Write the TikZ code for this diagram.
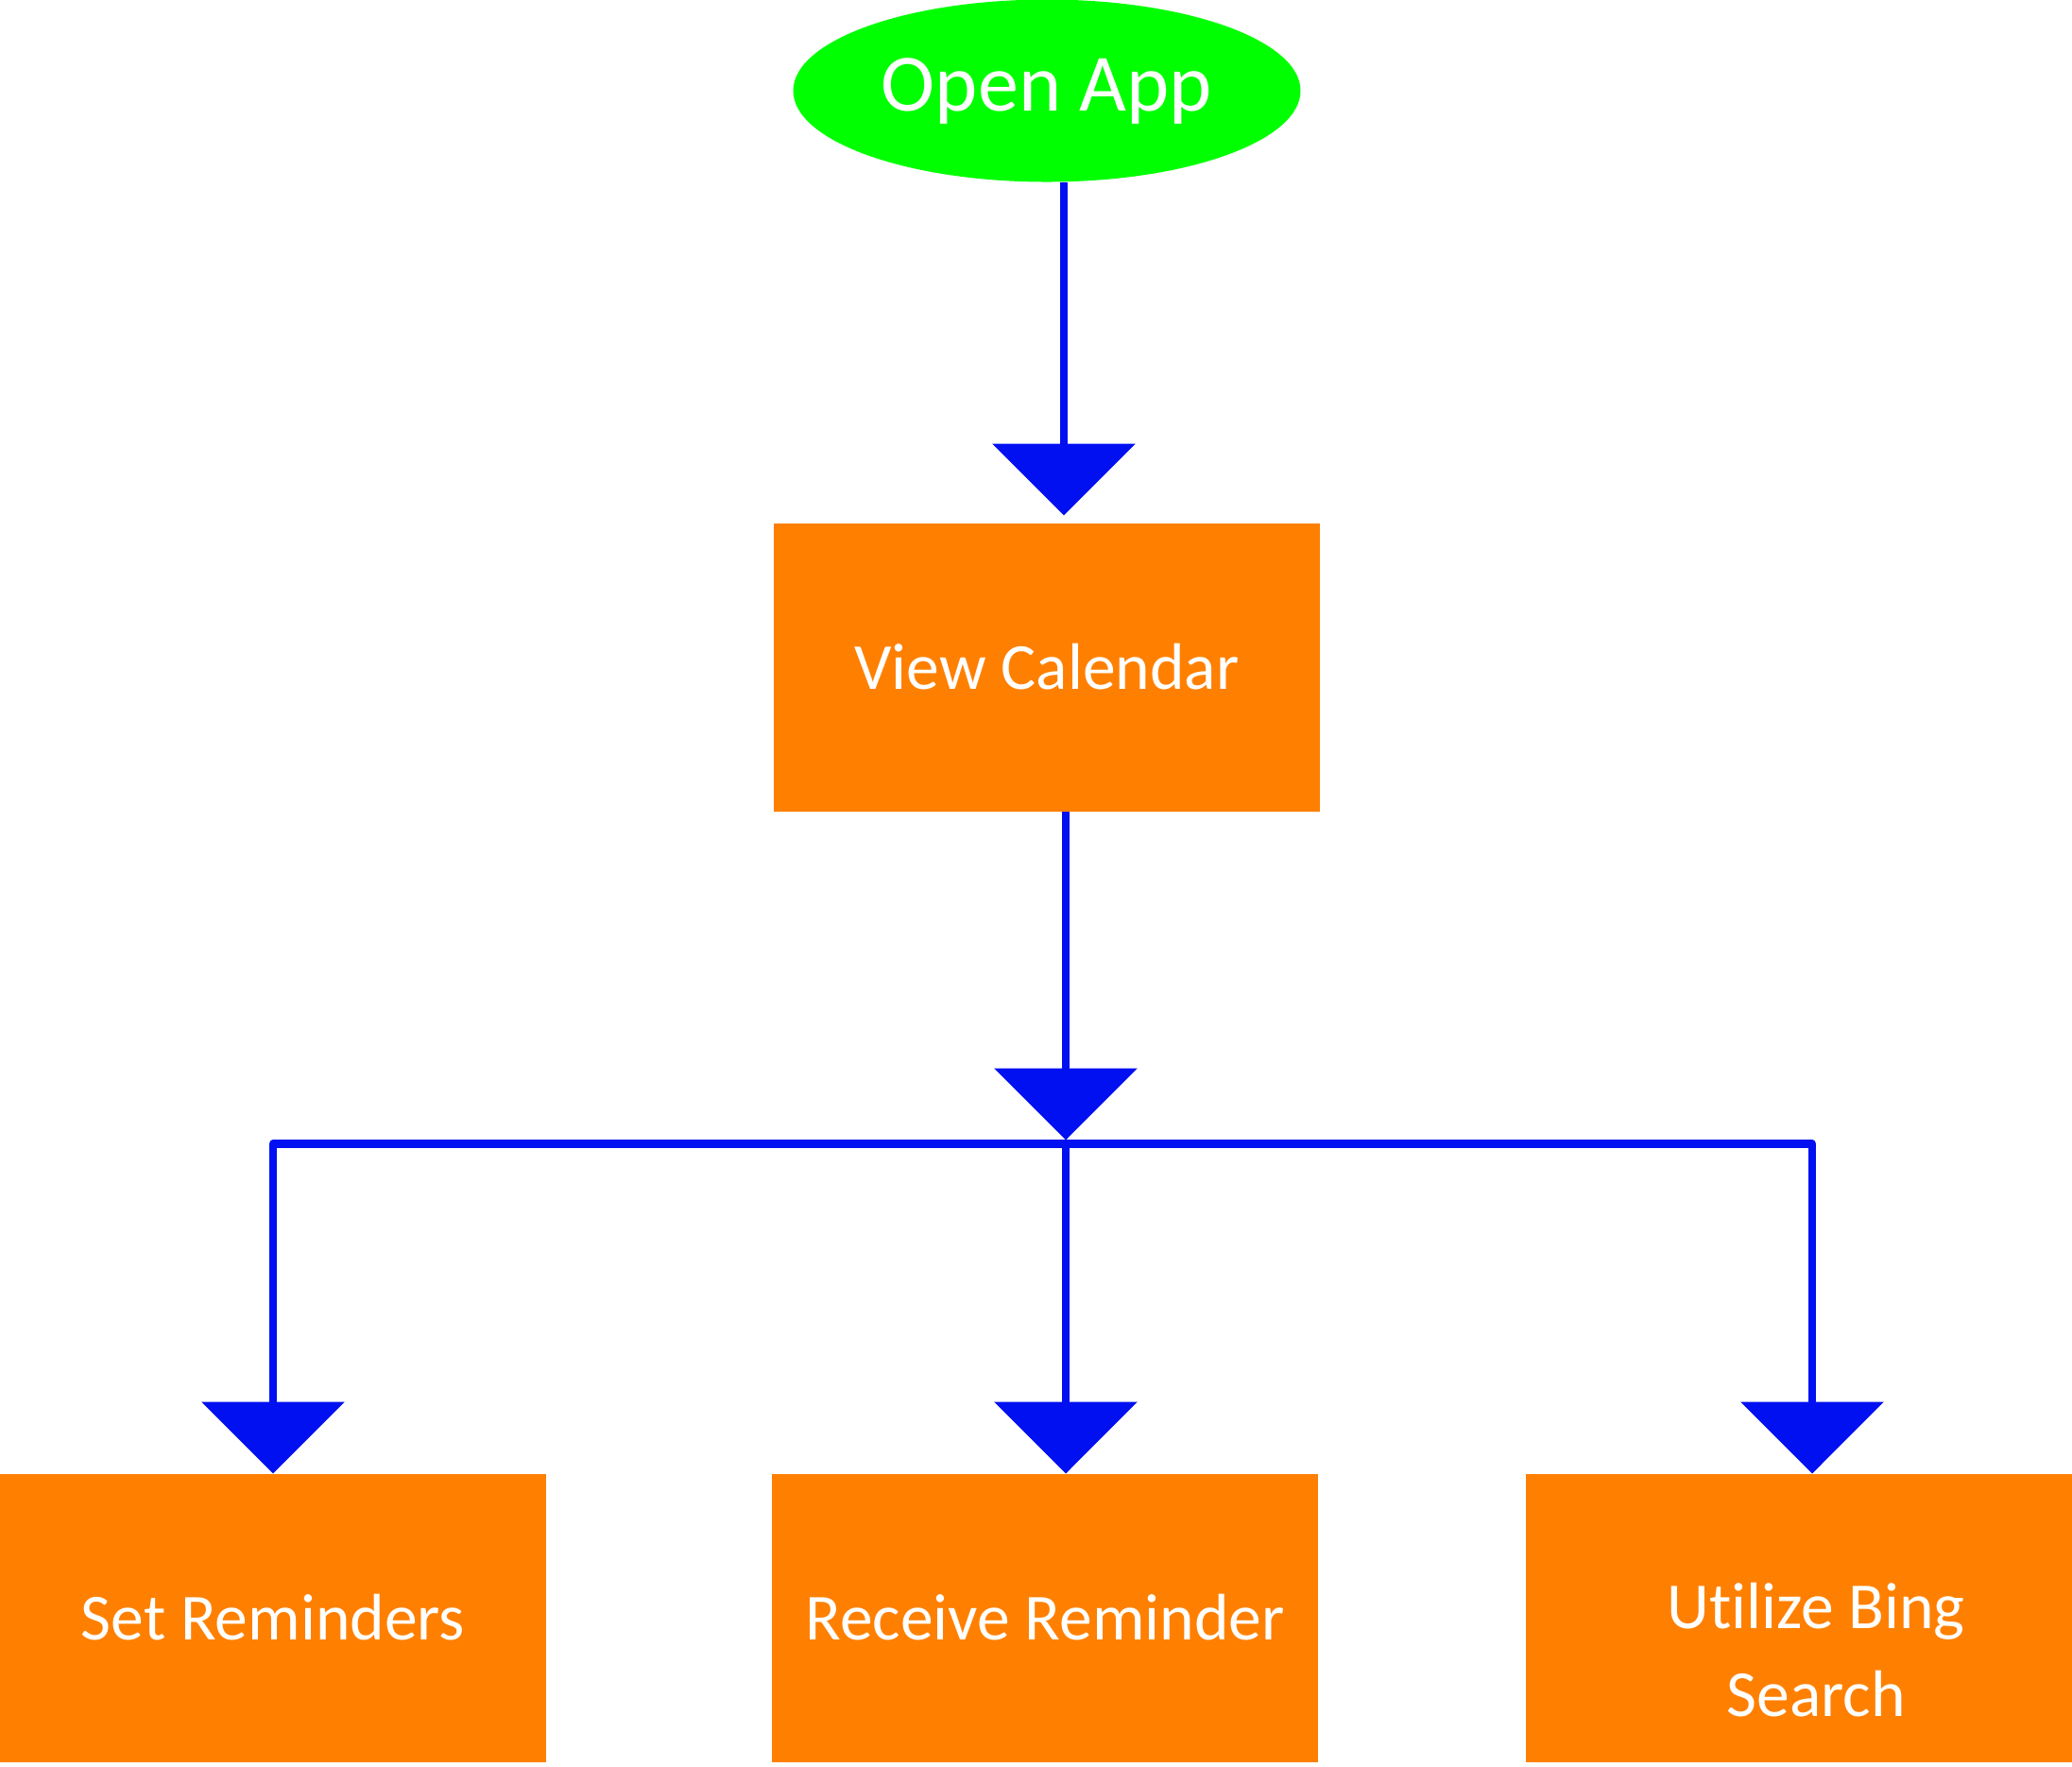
\documentclass[tikz,border=0pt]{standalone}
\usepackage{fontspec}
\usetikzlibrary{arrows.meta,positioning,shapes.geometric}
\newfontfamily\flowfont{Carlito}[Ligatures=NoCommon]
\definecolor{appgreen}{RGB}{0,255,0}
\definecolor{boxorange}{RGB}{255,128,0}
\definecolor{flowblue}{RGB}{0,16,240}

\begin{document}
\begin{tikzpicture}[>={Triangle[width=15mm,length=7.6mm]},line width=0.83mm,
	  flow/.style={->,draw=flowblue,line join=round},
	  task text/.style={text=white,align=center,font=\flowfont\fontsize{19.8}{26.3}\selectfont},
	  start node/.style={ellipse,fill=appgreen,text=white,inner sep=0pt,outer sep=0pt,minimum width=53.7mm,minimum height=19.3mm,font=\flowfont\fontsize{24.5}{30}\selectfont},
	  task node/.style={rectangle,fill=boxorange,inner sep=0pt,outer sep=0pt,minimum width=57.8mm,minimum height=30.5mm,task text}]

		\useasboundingbox (0,0) rectangle (219.3mm,-186.9mm);

		\node[start node] (app) at (110.8mm,-9.6mm) {Open App};
		\node[task node] (cal) [below=36.1mm of app] {View Calendar};
		\node[task node] (recv) [below=70.1mm of cal, xshift=-0.2mm] {Receive Reminder};
		\node[task node] (set) [left=23.9mm of recv] {Set Reminders};
		\node[task node] (bing) [right=22mm of recv] {};
		\node[task text] (bingtext) at ([xshift=1.8mm,yshift=-3.4mm]bing.center) {Utilize Bing\\Search};

		\coordinate (bus) at ([xshift=2mm,yshift=-35.2mm]cal.south);

		% arrows
		\draw[flow, shorten >=0.8mm] ([xshift=1.8mm]app.south) -- ([xshift=1.8mm]cal.north);
		\draw[flow, shorten >=0.4mm] (cal.south -| bus) -- (bus);
		\draw[flow] (bus) -| (set.north);
		\draw[flow] (bus) -- (bus |- recv.north);
		\draw[flow] (bus) -| ([xshift=1.4mm]bing.north);

	\end{tikzpicture}
\end{document}
